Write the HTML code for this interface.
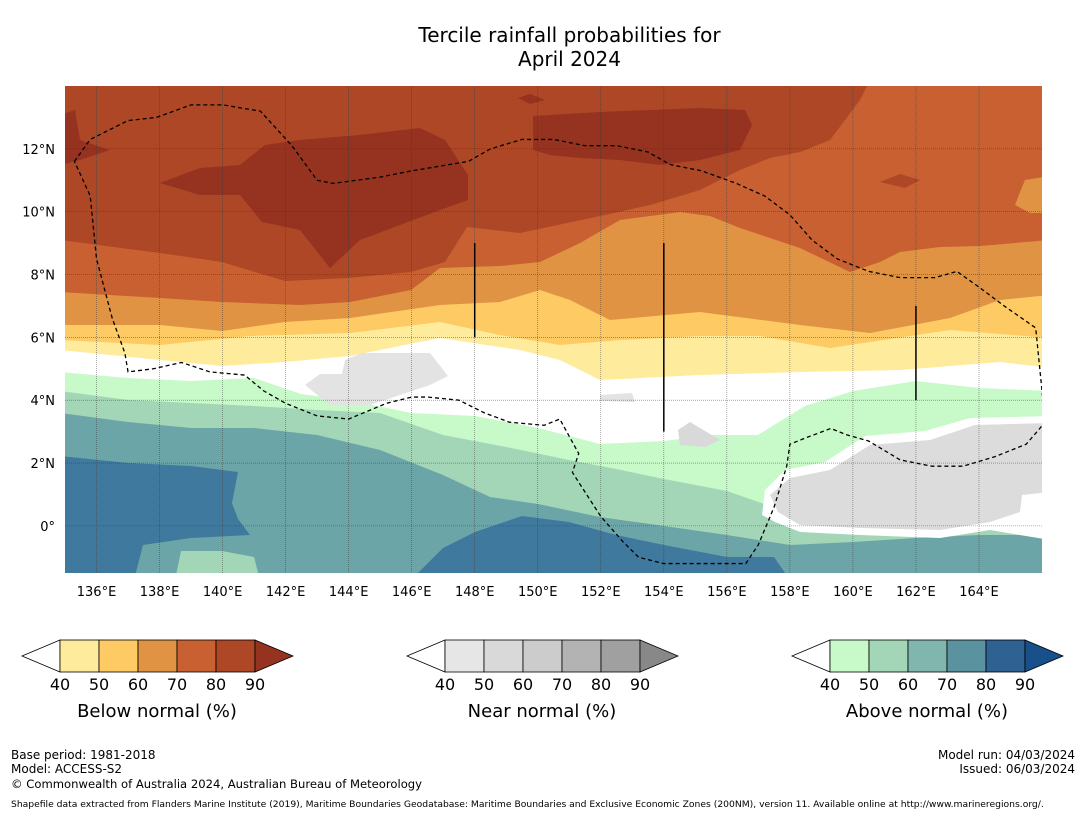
<!DOCTYPE html>
<html><head><meta charset="utf-8">
<style>
body{margin:0;background:#fff;font-family:"DejaVu Sans","Liberation Sans",sans-serif;}
#wrap{position:relative;width:1085px;height:816px;overflow:hidden;background:#fff}
.t{position:absolute;color:#000;white-space:nowrap}
</style></head>
<body>
<div id="wrap">
<div class="t" style="left:0;width:1139px;top:23px;text-align:center;font-size:20px;line-height:24px">Tercile rainfall probabilities for<br>April 2024</div>
<svg id="svg" width="1085" height="816" style="position:absolute;left:0;top:0"></svg>
<div class="t" style="left:11px;top:748px;font-size:12px">Base period: 1981-2018</div>
<div class="t" style="left:11px;top:762px;font-size:12px">Model: ACCESS-S2</div>
<div class="t" style="left:11px;top:777px;font-size:11.6px">© Commonwealth of Australia 2024, Australian Bureau of Meteorology</div>
<div class="t" style="right:10px;top:748px;font-size:12px;text-align:right">Model run: 04/03/2024</div>
<div class="t" style="right:10px;top:762px;font-size:12px;text-align:right">Issued: 06/03/2024</div>
<div class="t" style="left:11px;top:799px;font-size:9.2px">Shapefile data extracted from Flanders Marine Institute (2019), Maritime Boundaries Geodatabase: Maritime Boundaries and Exclusive Economic Zones (200NM), version 11. Available online at http://www.marineregions.org/.</div>
</div>
<script>
const lonTicks=[136,138,140,142,144,146,148,150,152,154,156,158,160,162,164];
const latTicks=[0,2,4,6,8,10,12];
const cbLabels=[40,50,60,70,80,90];
const belowColors=["#ffeb9c","#fdca64","#e09343","#c86031","#ad4726","#963220"];
const nearColors=["#e6e6e6","#d9d9d9","#cccccc","#b3b3b3","#a0a0a0","#888888"];
const aboveColors=["#c7f9c9","#a2d6b7","#80b6ae","#5b92a0","#2f6193","#17508a"];
const cbTitles=["Below normal (%)","Near normal (%)","Above normal (%)"];
const lon0=135,lon1=166,lat0=-1.5,lat1=14;
const X0=65,X1=1042,Y0=86,Y1=573;
const sx=l=>X0+(l-lon0)/(lon1-lon0)*(X1-X0);
const sy=l=>Y1-(l-lat0)/(lat1-lat0)*(Y1-Y0);
const NS="http://www.w3.org/2000/svg";
const svg=document.getElementById('svg');
const FF="DejaVu Sans, Liberation Sans, sans-serif";
function mk(tag,attrs,parent){const e=document.createElementNS(NS,tag);for(const k in attrs)e.setAttribute(k,attrs[k]);(parent||svg).appendChild(e);return e;}
const defs=mk('defs',{});
const cp=mk('clipPath',{id:'mc'},defs);mk('rect',{x:X0,y:Y0,width:X1-X0,height:Y1-Y0},cp);
const g=mk('g',{'clip-path':'url(#mc)'});

const bands=[
 {c:"#ad4726",n:"band-below-80",p:[[60,80],[1050,80]]},
 {c:"#c86031",n:"band-below-70",p:[[60,240],[160,253],[222,262],[285,281],[348,278],[411,272],[445,262],[467,227],[520,233],[600,216],[650,205],[700,190],[740,170],[770,158],[800,152],[830,140],[845,120],[860,100],[870,80],[1050,80]]},
 {c:"#e09343",n:"band-below-60",p:[[60,292],[160,298],[222,302],[300,305],[350,302],[411,290],[440,268],[500,266],[540,262],[580,243],[620,220],[680,212],[710,216],[740,228],[800,248],[850,272],[880,262],[900,252],[940,247],[980,246],[1050,240]]},
 {c:"#fdca64",n:"band-below-50",p:[[60,325],[160,325],[222,331],[285,322],[350,318],[440,305],[500,302],[540,290],[570,300],[610,320],[700,312],[800,325],[870,333],[950,318],[1000,300],[1050,295]]},
 {c:"#ffeb9c",n:"band-below-40",p:[[60,340],[160,345],[250,336],[350,333],[440,322],[500,335],[560,345],[620,340],[700,336],[760,336],[830,348],[950,330],[1050,338]]},
 {c:"#ffffff",n:"band-neutral",p:[[60,350],[140,358],[222,366],[285,362],[350,356],[440,338],[520,350],[560,360],[600,380],[700,375],[800,372],[900,370],[1000,362],[1050,368]]},
 {c:"#c7f9c9",n:"band-above-40",p:[[60,372],[128,378],[191,381],[254,378],[301,394],[348,400],[411,413],[475,416],[538,428],[600,444],[664,441],[711,435],[758,435],[805,406],[853,391],[916,381],[979,388],[1050,391]]},
 {c:"#a2d6b7",n:"band-above-50",p:[[60,391],[128,400],[191,403],[254,406],[317,410],[380,413],[443,435],[506,447],[569,460],[616,469],[664,479],[727,491],[790,513],[853,526],[916,529],[979,517],[1050,517]]},
 {c:"#6ca5a8",n:"band-above-60",p:[[60,413],[128,422],[191,428],[254,428],[317,435],[380,450],[443,475],[490,497],[538,504],[600,517],[664,526],[727,535],[790,545],[853,542],[916,538],[979,535],[1050,535]]}
];
bands.forEach(b=>{
 let d="M"+b.p[0][0]+","+(Y1+10);
 b.p.forEach(q=>{d+=" L"+q[0]+","+q[1];});
 d+=" L"+b.p[b.p.length-1][0]+","+(Y1+10)+" Z";
 const e=mk('path',{d:d,fill:b.c},g);
 
 
});
const patches=[
 {c:"#963220",n:"patch-below-90-left",p:[[160,183],[200,168],[240,165],[265,145],[300,140],[360,135],[420,128],[445,140],[468,175],[468,200],[440,210],[400,225],[360,240],[330,268],[300,230],[262,222],[240,195],[200,195]]},
 {c:"#963220",n:"patch-below-90-top",p:[[533,116],[600,112],[700,108],[745,110],[752,125],[740,150],[700,160],[660,165],[620,160],[580,158],[550,155],[533,150]]},
 {c:"#963220",n:"patch-below-90-edge",p:[[60,115],[75,110],[80,140],[110,150],[80,160],[60,165]]},
 {c:"#963220",n:"patch-below-90-small",p:[[518,98],[530,94],[545,100],[530,104]]},
 {c:"#ad4726",n:"patch-below-80-right",p:[[880,182],[900,174],[920,180],[905,188]]},
 {c:"#e09343",n:"patch-below-60-ne",p:[[1050,176],[1025,180],[1020,192],[1015,205],[1030,213],[1050,213]]},
 {c:"#e3e3e3",n:"patch-near-40-w",p:[[305,385],[320,374],[342,374],[345,360],[362,353],[430,353],[448,376],[430,385],[400,395],[370,405],[330,405]]},
 {c:"#e3e3e3",n:"patch-near-40-c",p:[[600,395],[632,393],[635,402],[600,401]]},
 {c:"#ffffff",n:"patch-white-e",p:[[762,515],[765,490],[785,470],[825,462],[865,436],[925,431],[970,418],[1050,416],[1050,540],[990,530],[940,538],[860,535],[800,532],[775,522]]},
 {c:"#dcdcdc",n:"patch-near-40-e",p:[[778,512],[770,495],[790,478],[830,470],[870,445],[930,440],[975,425],[1050,423],[1050,492],[1022,495],[1020,512],[990,522],[940,530],[860,528],[800,525]]},
 {c:"#d9d9d9",n:"patch-near-50",p:[[678,430],[690,422],[720,440],[705,447],[680,445]]}
];
const bluePatches=[
 {c:"#3f799d",n:"band-above-70-left",p:[[60,456],[128,463],[191,466],[238,472],[232,503],[238,519],[250,535],[191,538],[143,545],[134,580],[60,580]]},
 {c:"#3f799d",n:"band-above-70-center",p:[[411,580],[443,548],[475,532],[522,516],[569,522],[616,535],[664,545],[727,557],[774,557],[790,580]]},
 {c:"#a2d6b7",n:"patch-above-50-sw",p:[[175,580],[181,551],[222,551],[254,557],[260,580]]}
];
bluePatches.concat(patches).forEach(b=>{
 const e=mk('polygon',{points:b.p.map(q=>q[0]+","+q[1]).join(" "),fill:b.c},g);
 
 
});
lonTicks.forEach(l=>{const e=mk('line',{x1:sx(l),x2:sx(l),y1:Y0,y2:Y1,stroke:"#333",'stroke-width':0.6,'stroke-dasharray':'1,1','opacity':0.7},g);
 });
latTicks.forEach(l=>{const e=mk('line',{x1:X0,x2:X1,y1:sy(l),y2:sy(l),stroke:"#333",'stroke-width':0.6,'stroke-dasharray':'1,1','opacity':0.7},g);
 });
const eez=[[135.3,11.6],[135.8,12.3],[137,12.9],[137.9,13.0],[139,13.4],[140,13.4],[141.2,13.2],[142.2,12.1],[143,11.0],[143.5,10.9],[145,11.1],[146,11.3],[147.8,11.6],[148.5,12.0],[149.5,12.3],[150.5,12.3],[151.5,12.1],[152.5,12.1],[153.5,11.9],[154.2,11.5],[155.2,11.3],[156.3,10.9],[157.2,10.5],[158,9.9],[158.7,9.1],[159.5,8.5],[160.5,8.1],[161.5,7.9],[162.6,7.9],[163.3,8.1],[164,7.6],[164.8,7.0],[165.8,6.3],[166.1,3.3],[165.5,2.6],[164.5,2.2],[163.5,1.9],[162.5,1.9],[161.5,2.1],[160.5,2.7],[159.8,2.9],[159.3,3.1],[158.5,2.8],[158,2.6],[157.9,1.9],[157.5,0.6],[157,-0.6],[156.6,-1.2],[155.2,-1.2],[154,-1.2],[153.2,-1.0],[152.7,-0.5],[152,0.3],[151.1,1.7],[151.3,2.3],[150.7,3.4],[150.2,3.2],[149.1,3.3],[148.3,3.6],[147.5,4.0],[146.5,4.1],[146,4.1],[145.2,3.9],[144,3.4],[143,3.5],[142,3.9],[141.3,4.3],[140.7,4.8],[139.6,4.9],[138.7,5.2],[137.8,5.0],[137,4.9],[136.9,5.5],[136.5,6.6],[136,8.5],[135.8,10.5],[135.3,11.6]];
const eezE=mk('polyline',{points:eez.map(q=>sx(q[0])+","+sy(q[1])).join(" "),fill:"none",stroke:"#000",'stroke-width':1.3,'stroke-dasharray':'4,3'},g);

[[148,6,9],[154,3,9],[162,4,7]].forEach(v=>{const e=mk('line',{x1:sx(v[0]),x2:sx(v[0]),y1:sy(v[2]),y2:sy(v[1]),stroke:"#000",'stroke-width':1.5},g);
 });
lonTicks.forEach(l=>{const e=mk('text',{x:sx(l),y:596,'font-size':13,'text-anchor':'middle','font-family':FF});e.textContent=l+"°E";
 });
latTicks.forEach(l=>{const e=mk('text',{x:55,y:sy(l)+5,'font-size':13,'text-anchor':'end','font-family':FF});e.textContent=l===0?"0°":l+"°N";
 });
const cbX=[60,445,830],cbSets=[belowColors,nearColors,aboveColors],cbNames=["below-normal","near-normal","above-normal"];
cbX.forEach((x,i)=>{
 const w=39,yT=640,yB=672,col=cbSets[i];
 const gg=mk('g',{});
 mk('polygon',{points:`${x},${yT} ${x-38},${(yT+yB)/2} ${x},${yB}`,fill:"#fff",stroke:"#000",'stroke-width':0.8},gg);
 for(let k=0;k<5;k++)mk('rect',{x:x+k*w,y:yT,width:w,height:yB-yT,fill:col[k],stroke:"#000",'stroke-width':0.8},gg);
 mk('polygon',{points:`${x+5*w},${yT} ${x+5*w+38},${(yT+yB)/2} ${x+5*w},${yB}`,fill:col[5],stroke:"#000",'stroke-width':0.8},gg);
 cbLabels.forEach((v,k)=>{const e=mk('text',{x:x+k*w,y:690,'font-size':16,'text-anchor':'middle','font-family':FF},gg);e.textContent=v;
  });
 const t=mk('text',{x:x+97,y:717,'font-size':18,'text-anchor':'middle','font-family':FF},gg);t.textContent=cbTitles[i];
 
});
</script>
</body></html>
